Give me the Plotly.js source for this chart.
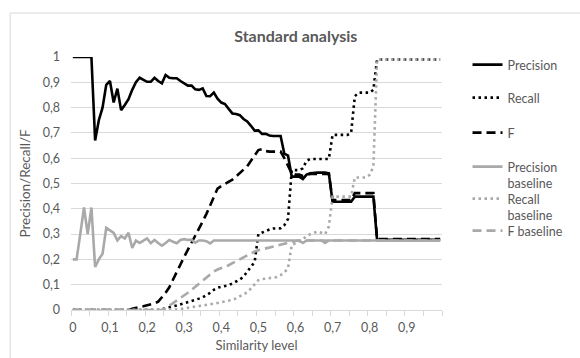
<!DOCTYPE html>
<html>
<head>
<meta charset="utf-8">
<script src="https://cdn.plot.ly/plotly-3.0.1.min.js"></script>
<style>
  html, body { margin: 0; padding: 0; background: #fff; }
  #chart { width: 580px; height: 358px; }
</style>
</head>
<body>
<div id="chart"></div>
<script>
// Similarity levels (categories)
const similarity = [
  0.00,0.01,0.02,0.03,0.04,0.05,0.06,0.07,0.08,0.09,
  0.10,0.11,0.12,0.13,0.14,0.15,0.16,0.17,0.18,0.19,
  0.20,0.21,0.22,0.23,0.24,0.25,0.26,0.27,0.28,0.29,
  0.30,0.31,0.32,0.33,0.34,0.35,0.36,0.37,0.38,0.39,
  0.40,0.41,0.42,0.43,0.44,0.45,0.46,0.47,0.48,0.49,
  0.50,0.51,0.52,0.53,0.54,0.55,0.56,0.57,0.58,0.59,
  0.60,0.61,0.62,0.63,0.64,0.65,0.66,0.67,0.68,0.69,
  0.70,0.71,0.72,0.73,0.74,0.75,0.76,0.77,0.78,0.79,
  0.80,0.81,0.82,0.83,0.84,0.85,0.86,0.87,0.88,0.89,
  0.90,0.91,0.92,0.93,0.94,0.95,0.96,0.97,0.98,0.99
];

const precision = [
  1,1,1,1,1,1,0.67,0.75,0.80,0.89,
  0.905,0.82,0.875,0.79,0.81,0.833,0.87,0.90,0.918,0.91,
  0.902,0.902,0.918,0.905,0.896,0.929,0.918,0.916,0.916,0.905,
  0.895,0.887,0.887,0.872,0.87,0.876,0.846,0.845,0.859,0.835,
  0.82,0.814,0.795,0.777,0.775,0.77,0.755,0.745,0.728,0.709,
  0.71,0.696,0.696,0.69,0.688,0.688,0.688,0.618,0.61,0.527,
  0.527,0.527,0.518,0.535,0.54,0.543,0.543,0.543,0.543,0.54,
  0.428,0.428,0.428,0.428,0.428,0.428,0.448,0.448,0.448,0.448,
  0.448,0.448,0.277,0.277,0.277,0.277,0.277,0.277,0.277,0.277,
  0.277,0.277,0.277,0.277,0.277,0.277,0.277,0.277,0.277,0.277
];

const recall = [
  0,0,0,0,0,0,0,0,0,0,
  0,0,0,0,0,0,0,0,0,0,
  0,0,0,0,0.003,0.008,0.012,0.015,0.018,0.022,
  0.026,0.03,0.035,0.04,0.045,0.05,0.058,0.068,0.08,0.088,
  0.092,0.095,0.098,0.105,0.112,0.12,0.132,0.15,0.17,0.19,
  0.30,0.307,0.312,0.318,0.322,0.323,0.323,0.335,0.36,0.553,
  0.553,0.553,0.56,0.59,0.597,0.597,0.597,0.597,0.597,0.597,
  0.692,0.692,0.692,0.692,0.692,0.70,0.845,0.859,0.859,0.859,
  0.859,0.87,0.99,0.99,0.99,0.99,0.99,0.99,0.99,0.99,
  0.99,0.99,0.99,0.99,0.99,0.99,0.99,0.99,0.99,0.99
];

const fScore = [
  0,0,0,0,0,0,0,0,0,0,
  0,0,0,0,0,0,0.005,0.01,0.012,0.015,
  0.018,0.022,0.026,0.033,0.05,0.068,0.09,0.122,0.15,0.18,
  0.21,0.237,0.265,0.295,0.32,0.35,0.38,0.415,0.45,0.48,
  0.49,0.498,0.505,0.515,0.528,0.54,0.555,0.568,0.59,0.612,
  0.632,0.636,0.628,0.626,0.626,0.626,0.626,0.60,0.57,0.54,
  0.535,0.535,0.53,0.535,0.538,0.538,0.538,0.538,0.538,0.538,
  0.435,0.435,0.435,0.435,0.435,0.435,0.462,0.462,0.462,0.462,
  0.462,0.462,0.28,0.28,0.28,0.28,0.28,0.28,0.28,0.28,
  0.28,0.28,0.28,0.28,0.28,0.28,0.28,0.28,0.28,0.28
];

const precisionBaseline = [
  0.2,0.2,0.3,0.405,0.3,0.405,0.17,0.2,0.222,0.325,
  0.315,0.305,0.275,0.292,0.283,0.305,0.245,0.274,0.265,0.275,
  0.283,0.264,0.277,0.265,0.254,0.265,0.277,0.27,0.264,0.277,
  0.28,0.277,0.277,0.266,0.275,0.275,0.272,0.263,0.275,0.275,
  0.275,0.275,0.275,0.275,0.275,0.275,0.275,0.275,0.275,0.275,
  0.275,0.275,0.275,0.275,0.275,0.275,0.275,0.275,0.275,0.275,
  0.275,0.275,0.265,0.275,0.275,0.275,0.275,0.275,0.265,0.275,
  0.275,0.275,0.275,0.275,0.275,0.275,0.275,0.275,0.275,0.275,
  0.275,0.275,0.275,0.275,0.275,0.275,0.275,0.275,0.275,0.275,
  0.275,0.275,0.275,0.275,0.275,0.275,0.275,0.275,0.275,0.275
];

const recallBaseline = [
  0,0,0,0,0,0,0,0,0,0,
  0,0,0,0,0,0,0,0,0,0,
  0,0,0,0,0,0,0,0,0.002,0.004,
  0.006,0.008,0.01,0.012,0.014,0.016,0.019,0.022,0.025,0.028,
  0.031,0.034,0.037,0.04,0.046,0.053,0.06,0.07,0.085,0.10,
  0.118,0.122,0.124,0.125,0.126,0.13,0.138,0.148,0.165,0.257,
  0.264,0.27,0.28,0.292,0.30,0.305,0.31,0.305,0.30,0.33,
  0.448,0.448,0.448,0.448,0.448,0.448,0.524,0.524,0.524,0.524,
  0.534,0.566,0.99,0.99,0.99,0.99,0.99,0.99,0.99,0.99,
  0.99,0.99,0.99,0.99,0.99,0.99,0.99,0.99,0.99,0.99
];

const fBaseline = [
  0,0,0,0,0,0,0,0,0,0,
  0,0,0,0,0,0,0,0,0,0,
  0,0,0,0,0,0.007,0.017,0.027,0.037,0.046,
  0.055,0.068,0.08,0.093,0.105,0.116,0.128,0.14,0.152,0.16,
  0.165,0.171,0.177,0.185,0.193,0.202,0.21,0.218,0.226,0.231,
  0.236,0.24,0.243,0.246,0.25,0.253,0.257,0.261,0.265,0.27,
  0.273,0.275,0.275,0.275,0.275,0.275,0.275,0.275,0.275,0.275,
  0.275,0.275,0.275,0.275,0.275,0.275,0.275,0.275,0.275,0.275,
  0.275,0.275,0.275,0.275,0.275,0.275,0.275,0.275,0.275,0.275,
  0.275,0.275,0.275,0.275,0.275,0.275,0.275,0.275,0.275,0.275
];

const seriesNames = ['Precision', 'Recall', 'F', 'Precision<br>baseline', 'Recall<br>baseline', 'F baseline'];

const xTickValues = [0, 0.1, 0.2, 0.3, 0.4, 0.5, 0.6, 0.7, 0.8, 0.9];
const xTickLabels = ['0', '0,1', '0,2', '0,3', '0,4', '0,5', '0,6', '0,7', '0,8', '0,9'];
const yTickValues = [0, 0.1, 0.2, 0.3, 0.4, 0.5, 0.6, 0.7, 0.8, 0.9, 1];
const yTickLabels = ['0', '0,1', '0,2', '0,3', '0,4', '0,5', '0,6', '0,7', '0,8', '0,9', '1'];

const BLACK = '#000000';
const GREY = '#a9a9a9';
const TEXT = '#595959';
const GRID = '#d9d9d9';
const FONT = 'Lato, "Open Sans", sans-serif';

const seriesData = [precision, recall, fScore, precisionBaseline, recallBaseline, fBaseline];
const seriesStyles = [
  {color: BLACK, dash: 'solid'},
  {color: BLACK, dash: '2.5px,3.5px'},
  {color: BLACK, dash: '9px,5px'},
  {color: GREY, dash: 'solid'},
  {color: GREY, dash: '2.5px,3.5px'},
  {color: GREY, dash: '9px,5px'}
];
const legendIds = ['legend', 'legend2', 'legend3', 'legend4', 'legend5', 'legend6'];
// pixel row (first text line centre) of each legend entry
const legendRows = [64, 97, 132, 166, 198, 230];

const traces = seriesData.map((vals, k) => ({
  type: 'scatter',
  mode: 'lines',
  x: similarity,
  y: vals,
  name: seriesNames[k],
  legend: legendIds[k],
  line: {color: seriesStyles[k].color, width: 2.6, dash: seriesStyles[k].dash},
  hoverinfo: 'x+y+name'
}));

// plot-area geometry helpers (pixel -> paper) for the chart frame
const L = 71, R = 131, T = 57, B = 48, W = 580 - L - R, H = 358 - T - B;
const px = x => (x - L) / W;
const py = y => (358 - B - y) / H;

const minorTicks = [];
for (let k = 0; k <= 20; k++) minorTicks.push(-0.005 + 0.05 * k);

const layout = {
  width: 580,
  height: 358,
  margin: {l: L, r: R, t: T, b: B},
  paper_bgcolor: '#ffffff',
  plot_bgcolor: '#ffffff',
  font: {family: FONT, color: TEXT, size: 12},
  title: {
    text: 'Standard analysis',
    x: px(300), xanchor: 'center', xref: 'paper',
    y: 1 - 36 / 358, yanchor: 'middle', yref: 'container',
    font: {family: FONT, size: 16, color: TEXT, weight: 700}
  },
  xaxis: {
    range: [-0.005, 0.995],
    tickmode: 'array',
    tickvals: xTickValues,
    ticktext: xTickLabels,
    ticks: '',
    showgrid: false,
    zeroline: false,
    showline: true,
    linecolor: GRID,
    linewidth: 1,
    tickfont: {family: FONT, size: 12.5, color: TEXT},
    ticklabelstandoff: 6,
    minor: {tickmode: 'array', tickvals: minorTicks, ticks: 'outside', ticklen: 5, tickcolor: GRID, tickwidth: 1, showgrid: false},
    title: {text: 'Similarity level', font: {family: FONT, size: 13, color: TEXT}, standoff: 6},
    automargin: false,
    fixedrange: true
  },
  yaxis: {
    range: [0, 1],
    tickmode: 'array',
    tickvals: yTickValues,
    ticktext: yTickLabels,
    ticks: '',
    showgrid: true,
    gridcolor: GRID,
    gridwidth: 1,
    zeroline: false,
    showline: false,
    tickfont: {family: FONT, size: 12.5, color: TEXT},
    ticklabelstandoff: 10,
    title: {text: 'Precision/Recall/F', font: {family: FONT, size: 13.5, color: TEXT}, standoff: 8},
    automargin: false,
    fixedrange: true
  },
  showlegend: true,
  shapes: [
    {type: 'line', xref: 'paper', yref: 'paper', x0: px(9), x1: px(9), y0: py(370), y1: py(13), line: {color: GRID, width: 1}},
    {type: 'line', xref: 'paper', yref: 'paper', x0: px(9), x1: px(600), y0: py(13), y1: py(13), line: {color: GRID, width: 1}}
  ]
};

legendIds.forEach((id, k) => {
  layout[id] = {
    x: px(475), xanchor: 'left',
    y: py(legendRows[k] - 14), yanchor: 'top',
    bgcolor: 'rgba(0,0,0,0)',
    font: {family: FONT, size: 12.5, color: TEXT},
    valign: 'top',
    itemwidth: 30,
    maxheight: 100
  };
});

Plotly.newPlot('chart', traces, layout, {displayModeBar: false, staticPlot: true});
</script>
</body>
</html>
